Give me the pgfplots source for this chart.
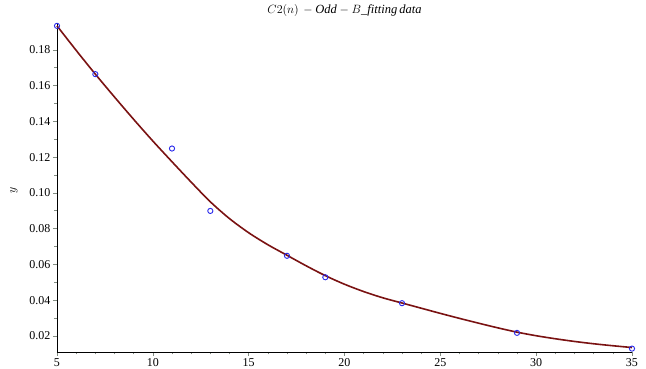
\documentclass[border=0pt]{standalone}
\usepackage{pgfplots}
\pgfplotsset{compat=1.18}
\usepackage{fontspec}
\setmainfont{Liberation Serif}
\definecolor{fitred}{RGB}{122,18,18}
\definecolor{ptblue}{RGB}{40,40,235}
\definecolor{tickgray}{RGB}{130,140,130}
\begin{document}
\begin{tikzpicture}
\useasboundingbox (-57pt,-17pt) rectangle (589pt,352pt);
\begin{axis}[
  scale only axis,
  width=575pt, height=329pt,
  at={(0,0)}, anchor=south west,
  xmin=5, xmax=35, ymin=0.011, ymax=0.195,
  axis lines=left,
  axis line style={-, black, line width=0.8pt},
  xtick={5,10,...,35},
  ytick={0.02,0.04,...,0.181},
  minor x tick num=4,
  minor y tick num=1,
  tick align=outside,
  major tick length=4pt,
  minor tick length=2.5pt,
  tick style={tickgray, line width=0.6pt},
  /pgf/number format/assume math mode=true,
  yticklabel style={/pgf/number format/fixed, /pgf/number format/fixed zerofill, /pgf/number format/precision=2, xshift=1pt},
  ticklabel style={font=\fontsize{12}{14}\selectfont},
  xticklabel style={yshift=1pt},
  title={$C2(n)\, -\mathit{Odd}-B\_\mathit{fitting}\,\mathit{data}$},
  title style={at={(axis description cs:0.5,1)}, anchor=center, yshift=6pt, font=\fontsize{12.5}{14}\selectfont},
  ylabel={$y$},
  ylabel style={at={(axis description cs:-0.075,0.49)}, anchor=center, font=\fontsize{12}{14}\selectfont},
  clip=false,
]
\addplot[fitred, line width=1.6pt, smooth] coordinates {
(5,0.1934) (6,0.1797) (7,0.1664) (8,0.1536) (9,0.1411) (10,0.1290)
(11,0.1174) (12,0.1060) (13,0.0950) (14,0.0856) (15,0.0777) (16,0.0710)
(17,0.0651) (18,0.0592) (19,0.0537) (20,0.0489) (21,0.0448) (22,0.0413)
(23,0.0384) (24,0.0355) (25,0.0326) (26,0.0298) (27,0.0271) (28,0.0245)
(29,0.0221) (30,0.0201) (31,0.0184) (32,0.0169) (33,0.0156) (34,0.0145)
(35,0.0135)
};
\addplot[only marks, mark=o, mark size=2.6pt, mark options={ptblue, line width=0.9pt}] coordinates {
(5,0.1934) (7,0.1664) (11,0.1248) (13,0.0899) (17,0.0648) (19,0.0528)
(23,0.0383) (29,0.0217) (35,0.0129)
};
\end{axis}
\end{tikzpicture}
\end{document}
